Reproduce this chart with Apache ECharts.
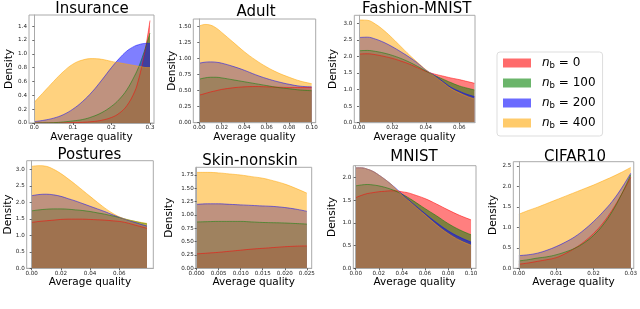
<!DOCTYPE html>
<html>
<head>
<meta charset="utf-8">
<script src="https://cdn.jsdelivr.net/npm/echarts@6/dist/echarts.min.js"></script>
<style>html,body{margin:0;padding:0;background:#fff}#c{width:640px;height:309px}</style>
</head>
<body>
<div id="c"></div>
<script>
// ---------- data ----------
const seriesNames = ['nb0', 'nb100', 'nb200', 'nb400'];
const legendValues = ['0', '100', '200', '400'];
const titles = ['Insurance', 'Adult', 'Fashion-MNIST', 'Postures', 'Skin-nonskin', 'MNIST', 'CIFAR10'];

const insuranceX      = [0, 0.025, 0.05, 0.075, 0.1, 0.125, 0.15, 0.175, 0.2, 0.22, 0.24, 0.26, 0.27, 0.28, 0.29, 0.3];
const insuranceNb0    = [0, 0, 0, 0.002, 0.005, 0.01, 0.02, 0.04, 0.08, 0.14, 0.25, 0.45, 0.62, 0.85, 1.13, 1.48];
const insuranceNb100  = [0, 0.002, 0.005, 0.015, 0.03, 0.05, 0.09, 0.15, 0.24, 0.34, 0.48, 0.68, 0.80, 0.95, 1.12, 1.30];
const insuranceNb200  = [0.02, 0.04, 0.07, 0.12, 0.2, 0.31, 0.45, 0.62, 0.80, 0.93, 1.04, 1.11, 1.13, 1.145, 1.15, 1.15];
const insuranceNb400  = [0.30, 0.45, 0.60, 0.74, 0.85, 0.91, 0.93, 0.92, 0.89, 0.87, 0.85, 0.83, 0.82, 0.81, 0.80, 0.80];
const insuranceXTicks = [0, 0.1, 0.2, 0.3];
const insuranceYTicks = [0, 0.2, 0.4, 0.6, 0.8, 1.0, 1.2, 1.4];

const adultX      = [0, 0.005, 0.01, 0.015, 0.02, 0.03, 0.04, 0.05, 0.06, 0.07, 0.08, 0.09, 0.1];
const adultNb0    = [0.43, 0.455, 0.48, 0.50, 0.52, 0.545, 0.56, 0.565, 0.56, 0.555, 0.55, 0.55, 0.55];
const adultNb100  = [0.68, 0.70, 0.71, 0.71, 0.70, 0.67, 0.64, 0.61, 0.58, 0.55, 0.53, 0.51, 0.50];
const adultNb200  = [0.93, 0.945, 0.95, 0.945, 0.93, 0.88, 0.82, 0.75, 0.69, 0.64, 0.60, 0.57, 0.56];
const adultNb400  = [1.51, 1.535, 1.525, 1.48, 1.41, 1.26, 1.11, 0.98, 0.87, 0.78, 0.71, 0.65, 0.61];
const adultXTicks = [0, 0.02, 0.04, 0.06, 0.08, 0.10];
const adultYTicks = [0, 0.25, 0.5, 0.75, 1.0, 1.25, 1.5];

const fashionX      = [0, 0.005, 0.01, 0.015, 0.02, 0.025, 0.03, 0.035, 0.04, 0.045, 0.05, 0.055, 0.06, 0.065, 0.069];
const fashionNb0    = [2.07, 2.08, 2.05, 2.00, 1.94, 1.86, 1.77, 1.66, 1.55, 1.47, 1.41, 1.35, 1.30, 1.24, 1.19];
const fashionNb100  = [2.17, 2.18, 2.15, 2.10, 2.03, 1.94, 1.83, 1.70, 1.56, 1.43, 1.32, 1.21, 1.11, 1.04, 0.99];
const fashionNb200  = [2.57, 2.58, 2.52, 2.42, 2.29, 2.14, 1.98, 1.80, 1.59, 1.43, 1.25, 1.07, 0.95, 0.85, 0.79];
const fashionNb400  = [3.10, 3.09, 2.97, 2.78, 2.55, 2.30, 2.05, 1.82, 1.60, 1.41, 1.22, 1.03, 0.90, 0.79, 0.72];
const fashionXTicks = [0, 0.02, 0.04, 0.06];
const fashionYTicks = [0, 0.5, 1.0, 1.5, 2.0, 2.5, 3.0];

const posturesX      = [0, 0.005, 0.01, 0.015, 0.02, 0.025, 0.03, 0.035, 0.04, 0.045, 0.05, 0.055, 0.06, 0.065, 0.07, 0.075, 0.079];
const posturesNb0    = [1.39, 1.42, 1.44, 1.46, 1.48, 1.49, 1.49, 1.49, 1.48, 1.47, 1.46, 1.44, 1.42, 1.38, 1.32, 1.26, 1.21];
const posturesNb100  = [1.74, 1.77, 1.79, 1.80, 1.80, 1.79, 1.77, 1.75, 1.72, 1.68, 1.64, 1.59, 1.54, 1.48, 1.43, 1.38, 1.35];
const posturesNb200  = [2.20, 2.235, 2.245, 2.225, 2.18, 2.11, 2.04, 1.96, 1.88, 1.80, 1.72, 1.63, 1.55, 1.47, 1.40, 1.33, 1.28];
const posturesNb400  = [3.09, 3.11, 3.09, 3.00, 2.87, 2.71, 2.54, 2.36, 2.18, 2.00, 1.83, 1.68, 1.56, 1.48, 1.43, 1.39, 1.36];
const posturesXTicks = [0, 0.02, 0.04, 0.06];
const posturesYTicks = [0, 0.5, 1.0, 1.5, 2.0, 2.5, 3.0];

const skinX      = [0, 0.0025, 0.005, 0.0075, 0.01, 0.0125, 0.015, 0.0175, 0.02, 0.0225, 0.025];
const skinNb0    = [0.27, 0.285, 0.30, 0.32, 0.34, 0.36, 0.375, 0.39, 0.405, 0.415, 0.42];
const skinNb100  = [0.87, 0.875, 0.88, 0.88, 0.88, 0.87, 0.86, 0.855, 0.85, 0.84, 0.83];
const skinNb200  = [1.20, 1.21, 1.21, 1.20, 1.19, 1.18, 1.17, 1.16, 1.14, 1.11, 1.07];
const skinNb400  = [1.80, 1.80, 1.79, 1.77, 1.75, 1.72, 1.69, 1.64, 1.58, 1.50, 1.41];
const skinXTicks = [0, 0.005, 0.010, 0.015, 0.020, 0.025];
const skinYTicks = [0, 0.25, 0.5, 0.75, 1.0, 1.25, 1.5, 1.75];

const mnistX      = [0, 0.005, 0.01, 0.015, 0.02, 0.025, 0.03, 0.035, 0.04, 0.045, 0.05, 0.06, 0.07, 0.08, 0.09, 0.1];
const mnistNb0    = [1.56, 1.61, 1.65, 1.67, 1.69, 1.70, 1.71, 1.71, 1.69, 1.67, 1.63, 1.54, 1.42, 1.29, 1.17, 1.07];
const mnistNb100  = [1.82, 1.84, 1.85, 1.84, 1.82, 1.79, 1.75, 1.70, 1.64, 1.57, 1.49, 1.32, 1.16, 0.99, 0.85, 0.74];
const mnistNb200  = [2.22, 2.22, 2.19, 2.14, 2.06, 1.97, 1.87, 1.76, 1.64, 1.53, 1.42, 1.21, 1.01, 0.83, 0.69, 0.58];
const mnistNb400  = [2.22, 2.22, 2.19, 2.14, 2.06, 1.97, 1.87, 1.75, 1.62, 1.51, 1.40, 1.18, 0.96, 0.77, 0.62, 0.51];
const mnistXTicks = [0, 0.02, 0.04, 0.06, 0.08, 0.10];
const mnistYTicks = [0, 0.5, 1.0, 1.5, 2.0];

const cifarX      = [0, 0.0025, 0.005, 0.0075, 0.01, 0.0125, 0.015, 0.0175, 0.02, 0.0225, 0.025, 0.0275, 0.03];
const cifarNb0    = [0.10, 0.13, 0.17, 0.21, 0.26, 0.36, 0.49, 0.65, 0.85, 1.10, 1.42, 1.80, 2.22];
const cifarNb100  = [0.18, 0.21, 0.25, 0.28, 0.33, 0.40, 0.49, 0.62, 0.80, 1.05, 1.38, 1.80, 2.28];
const cifarNb200  = [0.31, 0.33, 0.37, 0.44, 0.53, 0.64, 0.77, 0.94, 1.14, 1.37, 1.63, 1.95, 2.32];
const cifarNb400  = [1.32, 1.41, 1.49, 1.58, 1.67, 1.76, 1.85, 1.94, 2.03, 2.13, 2.23, 2.34, 2.46];
const cifarXTicks = [0, 0.01, 0.02, 0.03];
const cifarYTicks = [0, 0.5, 1.0, 1.5, 2.0, 2.5];

// ---------- layout / style ----------
const colors = ['#ff0000', '#008000', '#0000ff', '#ffa500'];
const FONT = 'DejaVu Sans';

const panels = [
  {x: insuranceX, ys: [insuranceNb0, insuranceNb100, insuranceNb200, insuranceNb400], xt: insuranceXTicks, yt: insuranceYTicks, xd: 1, yd: 1,
   grid: [29, 15, 125, 108], xr: [-0.0137, 0.3104], yr: [0, 1.56], title: [92, 1.5], yGap: 14},
  {x: adultX, ys: [adultNb0, adultNb100, adultNb200, adultNb400], xt: adultXTicks, yt: adultYTicks, xd: 2, yd: 2,
   grid: [193.3, 19, 122.4, 103.7], xr: [-0.0053, 0.1036], yr: [0, 1.62], title: [256, 5], yGap: 15.5},
  {x: fashionX, ys: [fashionNb0, fashionNb100, fashionNb200, fashionNb400], xt: fashionXTicks, yt: fashionYTicks, xd: 2, yd: 1,
   grid: [354.3, 15.3, 120.7, 107.4], xr: [-0.0028, 0.0694], yr: [0, 3.24], title: [416.7, 1.5], yGap: 15.5},
  {x: posturesX, ys: [posturesNb0, posturesNb100, posturesNb200, posturesNb400], xt: posturesXTicks, yt: posturesYTicks, xd: 2, yd: 1,
   grid: [26.7, 160.7, 126.6, 107.6], xr: [-0.0034, 0.0833], yr: [0, 3.26], title: [89.5, 147.5], yGap: 13},
  {x: skinX, ys: [skinNb0, skinNb100, skinNb200, skinNb400], xt: skinXTicks, yt: skinYTicks, xd: 3, yd: 2,
   grid: [195.7, 167.3, 116, 101], xr: [-0.0002, 0.0261], yr: [0, 1.895], title: [250, 153.5], yGap: 21},
  {x: mnistX, ys: [mnistNb0, mnistNb100, mnistNb200, mnistNb400], xt: mnistXTicks, yt: mnistYTicks, xd: 2, yd: 1,
   grid: [353.3, 165.7, 122.7, 102.6], xr: [-0.0021, 0.1043], yr: [0, 2.265], title: [414, 150], yGap: 16},
  {x: cifarX, ys: [cifarNb0, cifarNb100, cifarNb200, cifarNb400], xt: cifarXTicks, yt: cifarYTicks, xd: 2, yd: 1,
   grid: [513.3, 161.7, 122.4, 106.6], xr: [-0.0015, 0.0308], yr: [0, 2.6], title: [575, 150], yGap: 14.5}
];

const grid = [], xAxis = [], yAxis = [], series = [], title = [];
const tickStyle = {show: true, length: 2, lineStyle: {color: '#444', width: 0.8}};
const frameLine = {show: true, lineStyle: {color: '#aaaaaa', width: 1}};
panels.forEach((p, i) => {
  grid.push({left: p.grid[0], top: p.grid[1], width: p.grid[2], height: p.grid[3],
             show: true, borderColor: '#aaaaaa', borderWidth: 1, backgroundColor: 'transparent', containLabel: false});
  title.push({text: titles[i], left: p.title[0], top: p.title[1], textAlign: 'center', padding: 0,
              textStyle: {fontFamily: FONT, fontSize: 15, fontWeight: 'normal', color: '#000'}});
  xAxis.push({type: 'value', gridIndex: i, min: p.xr[0], max: p.xr[1], z: 5,
    name: 'Average quality', nameLocation: 'middle', nameGap: 7.5,
    nameTextStyle: {fontFamily: FONT, fontSize: 10.5, color: '#000'},
    axisLine: frameLine, splitLine: {show: false},
    axisTick: Object.assign({customValues: p.xt}, tickStyle),
    axisLabel: {customValues: p.xt, margin: 2, fontFamily: FONT, fontSize: 5.6, color: '#222',
                showMinLabel: true, showMaxLabel: true, hideOverlap: false,
                formatter: v => v.toFixed(p.xd)}});
  yAxis.push({type: 'value', gridIndex: i, min: p.yr[0], max: p.yr[1], z: 5,
    name: 'Density', nameLocation: 'middle', nameGap: p.yGap, nameRotate: 90, nameMoveOverlap: false,
    nameTextStyle: {fontFamily: FONT, fontSize: 10.5, color: '#000'},
    axisLine: frameLine, splitLine: {show: false},
    axisTick: Object.assign({customValues: p.yt}, tickStyle),
    axisLabel: {customValues: p.yt, margin: 2, fontFamily: FONT, fontSize: 5.6, color: '#222',
                showMinLabel: true, showMaxLabel: true, hideOverlap: false,
                formatter: v => v.toFixed(p.yd)}});
  p.ys.forEach((ys, k) => {
    series.push({
      type: 'line', name: seriesNames[k], xAxisIndex: i, yAxisIndex: i,
      data: p.x.map((xv, j) => [xv, ys[j]]),
      smooth: 0.4, showSymbol: false, symbol: 'none', sampling: null,
      lineStyle: {color: colors[k], width: 1, opacity: 0.5},
      itemStyle: {color: colors[k]},
      areaStyle: {color: colors[k], opacity: 0.5},
      emphasis: {disabled: true}, silent: true
    });
  });
});

const chart = echarts.init(document.getElementById('c'), null, {renderer: 'canvas'});
chart.setOption({
  animation: false,
  title, grid, xAxis, yAxis, series,
  legend: {
    orient: 'vertical', left: 497, top: 52,
    itemWidth: 28, itemHeight: 9, itemGap: 7, icon: 'rect',
    backgroundColor: '#fff', borderColor: '#dddddd', borderWidth: 1, borderRadius: 3,
    padding: [5, 7, 6, 6], selectedMode: false,
    data: seriesNames.map((n, k) => ({name: n, itemStyle: {color: colors[k], opacity: 0.58}})),
    formatter: name => '{n|n}{b|b}{t| = ' + legendValues[seriesNames.indexOf(name)] + '}',
    textStyle: {
      fontFamily: FONT, fontSize: 12, color: '#000',
      rich: {
        n: {fontFamily: FONT, fontSize: 12, fontStyle: 'italic', padding: [0, 0, 0, 6]},
        b: {fontFamily: FONT, fontSize: 8.5, padding: [5, 0, 0, 0]},
        t: {fontFamily: FONT, fontSize: 12}
      }
    }
  }
});
</script>
</body>
</html>
